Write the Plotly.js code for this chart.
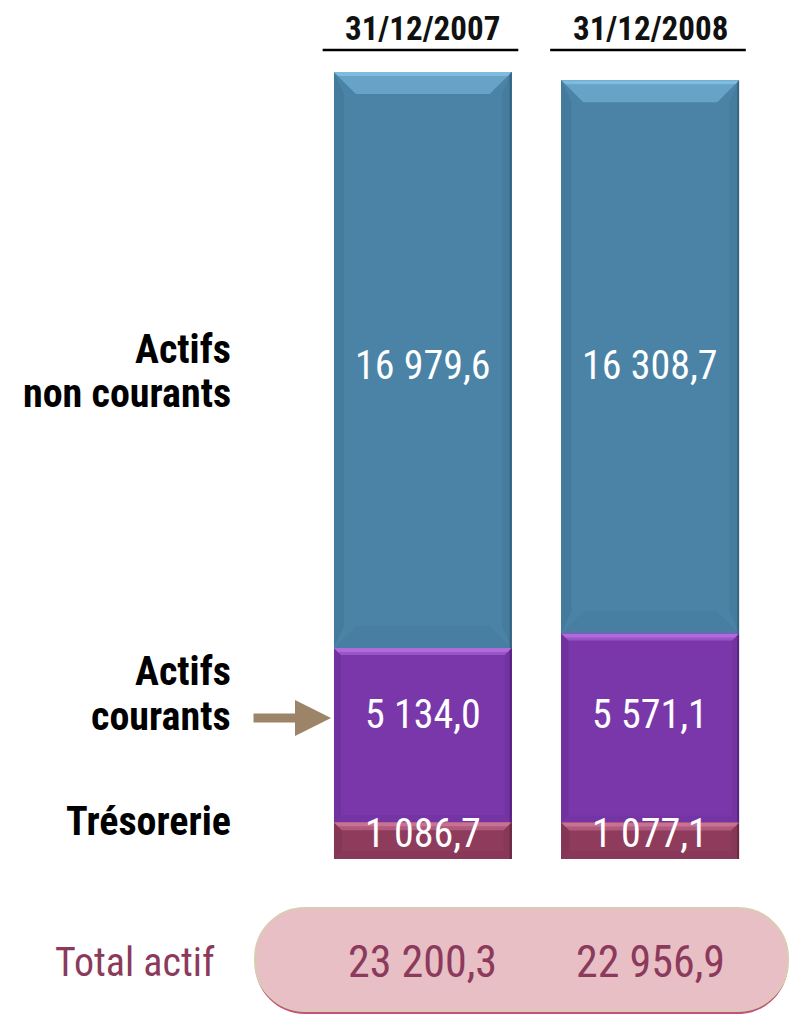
<!DOCTYPE html>
<html><head><meta charset="utf-8">
<script src="https://cdn.plot.ly/plotly-3.0.1.min.js"></script>
<style>html,body{margin:0;padding:0;background:#fff;} #chart{width:790px;height:1015px;}</style>
</head><body><div id="chart"></div>
<script>
// ---- data ----
const dates = ["31/12/2007", "31/12/2008"];
const seriesNames = ["Trésorerie", "Actifs courants", "Actifs non courants"]; // bottom -> top
const cash = [1086.7, 1077.1];
const current = [5134.0, 5571.1];
const nonCurrent = [16979.6, 16308.7];
const totalLabel = "Total actif";

// ---- styles ----
const FONT = '"Liberation Sans Narrow", "Arial Narrow", "Roboto Condensed", "DejaVu Sans Condensed", sans-serif';
const styles = [
  {main: '#8e3b5c', light: '#e08aae', dark: '#4a1a2e', d: 8},
  {main: '#7a37aa', light: '#c87ff2', dark: '#3a1458', d: 7},
  {main: '#4a83a6', light: '#93d4f7', dark: '#234a63', d: 22}
];
const W = 790, H = 1015, mL = 309, mR = 26, mT = 72, mB = 156;
const plotW = W - mL - mR, plotH = H - mT - mB;
const xs = dates.map((d, i) => i);
const barWidth = 0.782;

const series = [cash, current, nonCurrent];
const totals = xs.map(i => series.reduce((s, a) => s + a[i], 0));
const yMax = Math.max(...totals);
const uy = yMax / plotH;          // data units per pixel (y)
const ux = 2 / plotW;             // data units per pixel (x), range is 2 wide

function fr(v) {
  const parts = v.toFixed(1).split('.');
  return parts[0].replace(/\B(?=(\d{3})+(?!\d))/g, ' ') + ',' + parts[1];
}
const py2p = py => (H - mB - py) / plotH;
const px2p = px => (px - mL) / plotW;

const traces = series.map((vals, s) => ({
  type: 'bar', x: xs, y: vals, width: barWidth, name: seriesNames[s],
  marker: {color: styles[s].main, line: {width: 0}},
  hoverinfo: 'skip'
}));

// ---- bevel shapes (computed from data) ----
const shapes = [];
xs.forEach(i => {
  let base = 0;
  series.forEach((vals, s) => {
    const b = base, t = base + vals[i];
    base = t;
    const st = styles[s];
    const w = barWidth / 2, dx = st.d * ux, dy = st.d * uy;
    const sx = Math.min(st.d, 10) * ux;
    const L = i - w, R = i + w;
    const P = pts => 'M' + pts.map(p => p[0] + ',' + p[1]).join('L') + 'Z';
    shapes.push({type: 'path', xref: 'x', yref: 'y', layer: 'above', line: {width: 0},
      fillcolor: st.dark, opacity: 0.14, path: P([[L, t], [L + sx, t - dy], [L + sx, b + dy], [L, b]])});
    shapes.push({type: 'path', xref: 'x', yref: 'y', layer: 'above', line: {width: 0},
      fillcolor: st.dark, opacity: 0.1, path: P([[R, t], [R - sx, t - dy], [R - sx, b + dy], [R, b]])});
    shapes.push({type: 'path', xref: 'x', yref: 'y', layer: 'above', line: {width: 0},
      fillcolor: st.dark, opacity: 0.5, path: P([[R, t], [R - 2 * ux, t], [R - 2 * ux, b], [R, b]])});
    shapes.push({type: 'path', xref: 'x', yref: 'y', layer: 'above', line: {width: 0},
      fillcolor: st.dark, opacity: 0.08, path: P([[L, b], [R, b], [R - dx, b + dy], [L + dx, b + dy]])});
    shapes.push({type: 'path', xref: 'x', yref: 'y', layer: 'above', line: {width: 0},
      fillcolor: st.light, opacity: 0.4, path: P([[L, t], [R, t], [R - dx, t - dy], [L + dx, t - dy]])});
    shapes.push({type: 'path', xref: 'x', yref: 'y', layer: 'above', line: {width: 0},
      fillcolor: st.light, opacity: 0.5, path: P([[L, t], [R, t], [R - 4 * ux, t - 4 * uy], [L + 4 * ux, t - 4 * uy]])});
  });
});
// header underlines
xs.forEach(i => shapes.push({type: 'line', xref: 'x', yref: 'paper', x0: i - 0.44, x1: i + 0.42,
  y0: py2p(50), y1: py2p(50), line: {color: '#000', width: 2.5}}));

// total pill
function pill(x0, y0, x1, y1, r) {
  const k = 0.5523 * r;
  const P = (x, y) => px2p(x) + ',' + py2p(y);
  return 'M' + P(x0 + r, y0) + 'L' + P(x1 - r, y0) +
    'C' + P(x1 - r + k, y0) + ' ' + P(x1, y0 + r - k) + ' ' + P(x1, y0 + r) +
    'L' + P(x1, y1 - r) +
    'C' + P(x1, y1 - r + k) + ' ' + P(x1 - r + k, y1) + ' ' + P(x1 - r, y1) +
    'L' + P(x0 + r, y1) +
    'C' + P(x0 + r - k, y1) + ' ' + P(x0, y1 - r + k) + ' ' + P(x0, y1 - r) +
    'L' + P(x0, y0 + r) +
    'C' + P(x0, y0 + r - k) + ' ' + P(x0 + r - k, y0) + ' ' + P(x0 + r, y0) + 'Z';
}
shapes.push({type: 'path', xref: 'paper', yref: 'paper', layer: 'below', path: pill(255, 911, 788, 1014, 50),
  fillcolor: '#c4527e', line: {width: 0}});
shapes.push({type: 'path', xref: 'paper', yref: 'paper', layer: 'below', path: pill(255, 908, 788, 1011, 50),
  fillcolor: '#e8bfc5', line: {color: '#d9ccb2', width: 2}});

// ---- annotations ----
const annotations = [];
xs.forEach(i => annotations.push({x: i, xref: 'x', yref: 'paper', y: py2p(28), text: '<b>' + dates[i] + '</b>',
  showarrow: false, font: {family: FONT, size: 33, color: '#111'}, xanchor: 'center', yanchor: 'middle'}));

// value labels inside bars (row position from first bar, shifted as in source)
const rowShift = [3, 17, -10];
series.forEach((vals, s) => {
  let below = 0; for (let k = 0; k < s; k++) below += series[k][0];
  const yRow = below + vals[0] / 2;
  xs.forEach(i => annotations.push({x: i, y: yRow, xref: 'x', yref: 'y', yshift: rowShift[s] + 4,
    text: fr(vals[i]), showarrow: false, font: {family: FONT, size: 40, color: '#fff'},
    xanchor: 'center', yanchor: 'middle'}));
});

// left labels
const labelCenters = [[817], [667, 712], [345, 389]];
seriesNames.forEach((name, s) => {
  const sp = name.indexOf(' ');
  const lines = (s === 0 || sp < 0) ? [name] : [name.slice(0, sp), name.slice(sp + 1)];
  lines.forEach((ln, j) => annotations.push({xref: 'paper', yref: 'paper', x: px2p(233), y: py2p(labelCenters[s][j] + 4),
    xanchor: 'right', yanchor: 'middle', text: '<b>' + ln + '</b>', showarrow: false,
    font: {family: FONT, size: 40, color: '#000'}}));
});

// arrow
annotations.push({xref: 'paper', yref: 'paper', x: px2p(331), y: py2p(718), ax: -79, ay: 0, text: '',
  showarrow: true, arrowhead: 2, arrowwidth: 9, arrowsize: 0.8, arrowcolor: '#9c8468', standoff: 0});

// total row
annotations.push({xref: 'paper', yref: 'paper', x: px2p(135), y: py2p(962), text: totalLabel, showarrow: false,
  font: {family: FONT, size: 40, color: '#8b3a5c'}, xanchor: 'center', yanchor: 'middle'});
xs.forEach(i => annotations.push({x: i, xref: 'x', yref: 'paper', y: py2p(962), text: fr(totals[i]),
  showarrow: false, font: {family: FONT, size: 44, color: '#8b3a5c'}, xanchor: 'center', yanchor: 'middle'}));

const layout = {
  width: W, height: H, margin: {l: mL, r: mR, t: mT, b: mB, pad: 0},
  paper_bgcolor: '#fff', plot_bgcolor: 'rgba(0,0,0,0)',
  barmode: 'stack', showlegend: false,
  xaxis: {range: [-0.5, 1.5], visible: false, fixedrange: true},
  yaxis: {range: [0, yMax], visible: false, fixedrange: true},
  shapes: shapes, annotations: annotations,
  font: {family: FONT}
};
Plotly.newPlot('chart', traces, layout, {staticPlot: true, displayModeBar: false});
</script>
</body></html>
